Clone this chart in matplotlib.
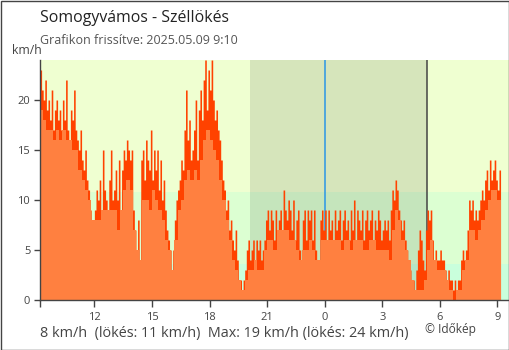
import numpy as np
import matplotlib
matplotlib.use("Agg")
import matplotlib.pyplot as plt
from matplotlib.patches import Rectangle

plt.rcParams['font.family'] = ['Open Sans', 'DejaVu Sans']

# ---- data -------------------------------------------------------------
start_hour = 9 + 10 / 60          # 2025.05.08 9:10
gust_step_min = 5
mean_step_min = 10

# gust (km/h), every 5 minutes, one row per hour
gust = [
    23, 21, 20, 22, 19, 20, 18, 21, 17, 19, 20, 18,
    19, 17, 20, 18, 22, 17, 16, 19, 18, 21, 17, 16,
    15, 17, 14, 13, 15, 12, 11, 9, 5, 7, 9, 11,
    10, 12, 9, 15, 11, 10, 9, 12, 15, 10, 11, 13,
    10, 14, 9, 13, 15, 14, 16, 15, 14, 15, 9, 7,
    5, 8, 4, 14, 15, 12, 16, 14, 13, 17, 12, 15,
    13, 15, 11, 14, 10, 12, 9, 7, 6, 5, 2, 5,
    8, 10, 11, 12, 14, 13, 17, 21, 16, 18, 14, 15,
    17, 20, 14, 19, 21, 18, 22, 24, 19, 23, 21, 24,
    20, 18, 19, 17, 16, 14, 12, 11, 9, 10, 7, 8,
    6, 5, 7, 4, 2, 2, 1, 2, 3, 5, 6, 4,
    5, 6, 4, 6, 5, 6, 4, 5, 6, 8, 9, 7,
    9, 8, 6, 9, 7, 8, 9, 7, 11, 9, 8, 10,
    9, 7, 10, 6, 8, 9, 5, 4, 8, 9, 6, 9,
    8, 9, 6, 9, 5, 4, 4, 8, 9, 7, 9, 6,
    9, 7, 8, 6, 9, 7, 8, 9, 6, 8, 9, 7,
    8, 6, 9, 7, 10, 6, 9, 8, 7, 9, 6, 8,
    9, 7, 8, 9, 6, 8, 7, 9, 8, 6, 7, 8,
    7, 8, 6, 9, 11, 10, 12, 11, 9, 8, 7, 8,
    6, 5, 4, 3, 1, 2, 1, 3, 5, 7, 6, 4,
    3, 7, 9, 8, 9, 6, 4, 5, 4, 4, 5, 4,
    4, 3, 2, 3, 2, 2, 1, 2, 1, 2, 2, 4,
    5, 4, 5, 7, 10, 9, 10, 8, 9, 8, 9, 10,
    11, 10, 12, 13, 11, 14, 12, 13, 14, 12, 11, 13,
    11,
]

# mean wind (km/h), every 10 minutes, one row per hour
mean = [
    19, 18, 17, 17, 16, 17,
    16, 17, 16, 16, 15, 15,
    13, 12, 11, 10, 8, 8,
    8, 9, 9, 9, 9, 9,
    7, 9, 11, 12, 11, 7,
    5, 4, 10, 10, 9, 11,
    10, 9, 8, 6, 5, 3,
    6, 9, 10, 12, 13, 12,
    13, 12, 14, 16, 17, 16,
    15, 14, 12, 10, 8, 6,
    4, 3, 2, 1, 2, 3,
    3, 4, 3, 3, 5, 6,
    6, 5, 7, 7, 7, 7,
    6, 6, 5, 4, 5, 5,
    6, 5, 4, 4, 6, 6,
    6, 6, 6, 6, 5, 6,
    6, 5, 6, 6, 6, 5,
    5, 6, 6, 5, 5, 5,
    5, 4, 7, 9, 8, 6,
    5, 4, 2, 1, 1, 1,
    2, 5, 6, 4, 3, 3,
    3, 2, 1, 0, 1, 1,
    3, 4, 7, 7, 6, 7,
    8, 9, 10, 11, 11, 10,
    8,
]

sunset_hour = 20 + 8 / 60
sunrise_hour = 24 + 5 + 19 / 60
midnight_hour = 24

tick_hours = [12, 15, 18, 21, 24, 27, 30, 33]
tick_labels = ["12", "15", "18", "21", "0", "3", "6", "9"]
y_ticks = [0, 5, 10, 15, 20]

band_edges = [0, 3.6, 10.8, 24]
band_colors = ["#c9ffdc", "#dcffd2", "#efffd1"]

title = "Somogyvámos - Széllökés"
subtitle = "Grafikon frissítve: 2025.05.09 9:10"
summary = "8 km/h  (lökés: 11 km/h)  Max: 19 km/h (lökés: 24 km/h)"
credit = "© Időkép"

# ---- figure -----------------------------------------------------------
W, H = 510, 350
fig = plt.figure(figsize=(W / 100, H / 100), dpi=100)
fig.patch.set_facecolor("white")

ax = fig.add_axes([40 / W, 1 - 300 / H, 469 / W, 240 / H])
x_min, x_max = start_hour, start_hour + 469 / 19.19
ax.set_xlim(x_min, x_max)
ax.set_ylim(0, 24)

# background bands
for lo, hi, c in zip(band_edges[:-1], band_edges[1:], band_colors):
    ax.axhspan(lo, hi, color=c, lw=0, zorder=0)

# night shading and markers
ax.axvspan(sunset_hour, sunrise_hour, color="black", alpha=0.1, lw=0, zorder=1)
ax.axvline(midnight_hour, color="#2a96e6", lw=1.1, zorder=2)
ax.axvline(sunrise_hour, color="#444444", lw=1.1, zorder=2)

# series
t_gust = start_hour + np.arange(len(gust)) * gust_step_min / 60
t_mean = start_hour + np.arange(len(mean)) * mean_step_min / 60
ax.fill_between(t_gust, 0, gust, step="post", color="#ff4200", lw=0, zorder=3)
ax.fill_between(t_mean, 0, mean, step="post", color="#ff8040", lw=0, zorder=4)

# axes styling
for s in ["top", "right"]:
    ax.spines[s].set_visible(False)
for s in ["left", "bottom"]:
    ax.spines[s].set_color("#444444")
    ax.spines[s].set_linewidth(1.0)
    ax.spines[s].set_zorder(5)

ax.set_xticks([start_hour] + tick_hours)
ax.set_xticklabels([""] + tick_labels)
ax.set_yticks(y_ticks)
ax.set_yticklabels([str(v) for v in y_ticks])
ax.tick_params(axis="x", length=5, width=1, color="#444444", labelsize=8,
               labelcolor="#444444", pad=4)
ax.tick_params(axis="y", length=4, width=1, color="#444444", labelsize=8,
               labelcolor="#444444", pad=3)
# midnight tick in blue
ax.get_xticklines()[2 * 5].set_color("#2a96e6")

# texts
fig.text(40 / W, 1 - 18 / H, title, fontsize=11.4, color="#222222",
         va="center", ha="left")
fig.text(40 / W, 1 - 40 / H, subtitle, fontsize=9.0, color="#555555",
         va="center", ha="left")
fig.text(12 / W, 1 - 51 / H, "km/h", fontsize=8.8, color="#444444",
         va="center", ha="left")
fig.text(40 / W, 1 - 333 / H, summary, fontsize=10.4, color="#444444",
         va="center", ha="left")
fig.text(425 / W, 1 - 329 / H, credit, fontsize=8.6, color="#444444",
         va="center", ha="left")

# outer frame
fig.add_artist(Rectangle((0.5 / W, 0.5 / H), 1 - 1 / W, 1 - 1 / H,
                         transform=fig.transFigure, fill=False,
                         edgecolor="#444444", lw=1.0))

fig.savefig("out.png", dpi=100)
